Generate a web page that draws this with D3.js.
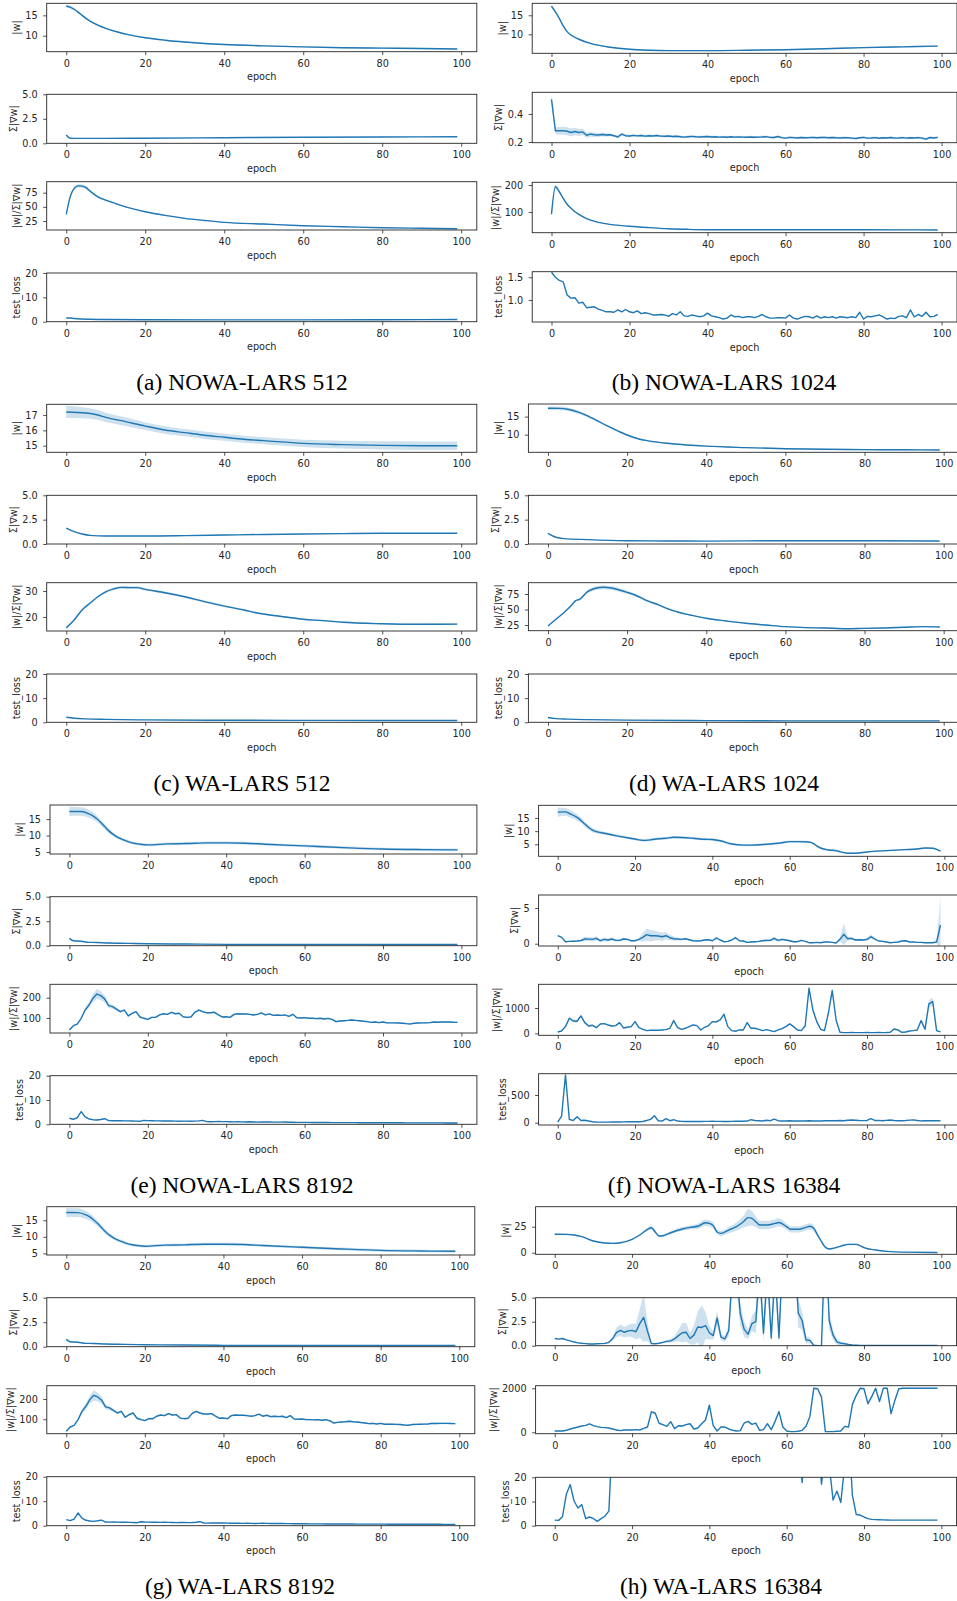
<!DOCTYPE html>
<html>
<head>
<meta charset="utf-8">
<script src="https://cdn.jsdelivr.net/npm/d3@7"></script>
<style>
  body { margin: 0; background: #fff; }
</style>
</head>
<body>
<svg id="fig" width="957" height="1601"></svg>
<script>
// ---- labels ----
const EPOCHS = d3.range(100);
const X_TICKS = [0, 20, 40, 60, 80, 100];
const Y_LABELS = ["|w|", "Σ|∇w|", "|w|/Σ|∇w|", "test_loss"];
const CAPTIONS = ["(a) NOWA-LARS 512", "(b) NOWA-LARS 1024", "(c) WA-LARS 512", "(d) WA-LARS 1024",
  "(e) NOWA-LARS 8192", "(f) NOWA-LARS 16384", "(g) WA-LARS 8192", "(h) WA-LARS 16384"];

// ---- data: smooth runs as [epoch, mean, band half-width]; noisy runs as one value per epoch ----
// (a) NOWA-LARS 512
const a_w = [[0,17.3,0.3],[1,17.0,0.3],[2,16.5,0.3],[3,15.8,0.3],[4,15.0,0.25],[6,13.6,0.2],[8,12.6,0.2],[10,11.8,0.15],[13,10.9,0.15],[16,10.2,0.15],[20,9.5,0.15],[25,8.9,0.15],[30,8.45,0.15],[35,8.1,0.15],[40,7.85,0.15],[50,7.5,0.15],[60,7.25,0.15],[70,7.05,0.15],[80,6.95,0.15],[90,6.85,0.15],[99,6.75,0.15]];
const a_g = [[0,0.85,0.05],[1,0.52,0.03],[3,0.5,0.02],[10,0.5,0.02],[20,0.52,0.02],[40,0.57,0.02],[60,0.62,0.02],[80,0.65,0.02],[99,0.67,0.02]];
const a_r = [[0,36.8,1],[1,67.8,2],[2,82.5,3],[3,87,3],[4,86.6,3],[5,84,3],[6,78,2.5],[7,72.5,2],[8,67.8,2],[10,62,1.5],[12,57,1.5],[15,50,1],[20,41.4,1],[25,35,1],[30,29.8,1],[35,26,0.8],[40,22.7,0.8],[50,19.7,0.6],[60,16.7,0.5],[70,15,0.5],[80,13.2,0.5],[90,12.2,0.5],[99,11.4,0.5]];
const a_l = [[0,1.5,0.05],[1,1.55,0.05],[2,1.3,0.05],[4,1.1,0.05],[6,1.0,0.05],[10,0.9,0.05],[20,0.8,0.05],[40,0.75,0.05],[60,0.75,0.05],[80,0.8,0.05],[99,0.9,0.05]];
const a_ylim = [[6.07,17.96],[0,5],[9.2,94.4],[0,20]];
const a_yticks = [[10,15],[0,2.5,5],[25,50,75],[0,10,20]];

// (b) NOWA-LARS 1024
const b_w = [[0,17.4,0.3],[1,15.9,0.3],[2,14.2,0.3],[3,12.2,0.3],[4,10.7,0.2],[5,9.8,0.2],[7,8.7,0.2],[10,7.6,0.15],[15,6.6,0.15],[20,6.05,0.15],[25,5.8,0.15],[30,5.7,0.15],[40,5.7,0.15],[50,5.8,0.15],[60,5.95,0.15],[70,6.2,0.15],[80,6.5,0.15],[90,6.7,0.15],[99,6.9,0.15]];
const b_g = [0.505,0.28,0.28,0.28,0.277,0.268,0.275,0.268,0.272,0.248,
  0.256,0.252,0.25,0.254,0.25,0.252,0.245,0.236,0.256,0.245,
  0.243,0.247,0.244,0.246,0.242,0.245,0.243,0.246,0.242,0.241,
  0.243,0.239,0.241,0.238,0.235,0.238,0.24,0.237,0.236,0.238,
  0.239,0.236,0.237,0.235,0.236,0.234,0.237,0.235,0.236,0.235,
  0.234,0.236,0.234,0.235,0.236,0.238,0.233,0.232,0.239,0.231,
  0.228,0.233,0.231,0.229,0.232,0.23,0.231,0.233,0.23,0.232,
  0.233,0.23,0.232,0.23,0.229,0.231,0.23,0.228,0.225,0.23,
  0.233,0.228,0.229,0.231,0.227,0.23,0.229,0.232,0.228,0.229,
  0.231,0.228,0.23,0.229,0.231,0.228,0.221,0.232,0.229,0.233];
const b_g_band = [0.03,0.025,0.028,0.029,0.029,0.028,0.027,0.025,0.022,0.02,
  0.018,0.016,0.014,0.013,0.012,0.011,0.01,0.01,0.01,0.01,
  0.009,0.009,0.009,0.009,0.009,0.008,0.008,0.008,0.008,0.008,
  0.008,0.008,0.008,0.008,0.008,0.008,0.008,0.008,0.008,0.008,
  0.008,0.008,0.008,0.008,0.008,0.008,0.008,0.008,0.008,0.008,
  0.008,0.008,0.008,0.008,0.008,0.008,0.008,0.008,0.008,0.008,
  0.008,0.008,0.008,0.008,0.008,0.008,0.008,0.008,0.008,0.008,
  0.008,0.008,0.008,0.008,0.008,0.008,0.008,0.008,0.008,0.008,
  0.008,0.008,0.008,0.008,0.008,0.008,0.008,0.008,0.008,0.008,
  0.008,0.008,0.008,0.008,0.008,0.008,0.008,0.008,0.008,0.008];
const b_r = [[0,91.5,4],[1,193.7,8],[2,175,6],[3,150.7,5],[4,128.5,4],[5,113.7,3],[6,101,3],[7,91.5,2],[8,82.6,2],[10,70,2],[12,61.7,1.5],[15,54.3,1.5],[20,47,1],[25,42,1],[30,38,1],[35,35.8,1],[40,34.5,1],[50,34,1],[60,34,1],[70,34,1],[80,34,1],[90,33.8,1],[99,33.5,1]];
const b_l = [1.61,1.50,1.43,1.40,1.11,1.04,1.05,0.93,0.95,0.83,
  0.84,0.85,0.80,0.77,0.74,0.74,0.73,0.78,0.74,0.79,
  0.74,0.72,0.76,0.70,0.72,0.70,0.67,0.67,0.68,0.67,
  0.64,0.70,0.67,0.74,0.65,0.64,0.67,0.65,0.63,0.65,
  0.71,0.65,0.63,0.61,0.58,0.60,0.67,0.63,0.64,0.61,
  0.63,0.63,0.61,0.64,0.68,0.63,0.60,0.60,0.61,0.61,
  0.60,0.67,0.60,0.58,0.61,0.64,0.63,0.60,0.65,0.60,
  0.63,0.61,0.63,0.60,0.63,0.62,0.61,0.63,0.61,0.73,
  0.58,0.64,0.63,0.65,0.67,0.63,0.58,0.60,0.59,0.64,
  0.65,0.61,0.78,0.63,0.68,0.64,0.73,0.63,0.64,0.68];
const b_ylim = [[5.0,18.16],[0.195,0.555],[23.3,210],[0.515,1.623]];
const b_yticks = [[10,15],[0.2,0.4],[100,200],[1.0,1.5]];

// (c) WA-LARS 512
const c_w = [[0,17.2,0.4],[5,17.13,0.35],[8,17.0,0.33],[10,16.85,0.3],[15,16.57,0.28],[20,16.28,0.25],[25,16.02,0.25],[30,15.85,0.24],[35,15.68,0.24],[40,15.55,0.23],[45,15.42,0.23],[50,15.33,0.23],[60,15.15,0.24],[70,15.07,0.26],[80,15.02,0.27],[90,15.0,0.28],[99,15.0,0.28]];
const c_g = [[0,1.64,0.03],[2,1.27,0.03],[4,1.03,0.03],[6,0.89,0.03],[10,0.82,0.03],[20,0.82,0.03],[30,0.86,0.03],[40,0.92,0.03],[50,0.98,0.03],[60,1.03,0.03],[70,1.07,0.03],[80,1.1,0.03],[90,1.1,0.03],[99,1.1,0.03]];
const c_r = [[0,15.8,0.2],[2,18.85,0.3],[4,22.7,0.4],[6,25.3,0.4],[8,27.8,0.5],[10,29.7,0.5],[12,30.8,0.5],[14,31.4,0.5],[16,31.3,0.5],[18,31.3,0.5],[20,30.65,0.5],[25,29.35,0.5],[30,27.8,0.4],[35,25.9,0.4],[40,24.2,0.4],[45,22.7,0.4],[48,21.65,0.3],[50,21.15,0.3],[55,20.1,0.3],[60,19.1,0.3],[65,18.6,0.3],[70,17.95,0.3],[80,17.4,0.3],[90,17.2,0.3],[99,17.25,0.3]];
const c_l = [[0,2.1,0.1],[2,1.7,0.1],[5,1.4,0.08],[10,1.2,0.05],[20,1.0,0.05],[40,0.85,0.05],[60,0.8,0.05],[80,0.75,0.05],[99,0.75,0.05]];
const c_ylim = [[14.57,17.70],[0,5],[14.6,33.2],[0,20]];
const c_yticks = [[15,16,17],[0,2.5,5],[20,30],[0,10,20]];

// (d) WA-LARS 1024
const d_w = [[0,17.33,0.5],[3,17.3,0.5],[5,17.05,0.5],[8,16.1,0.45],[10,15.2,0.4],[12,14.1,0.35],[15,12.4,0.3],[18,10.85,0.25],[20,9.9,0.2],[23,8.8,0.2],[25,8.35,0.2],[30,7.6,0.15],[35,7.14,0.15],[40,6.8,0.15],[50,6.4,0.15],[60,6.1,0.15],[70,5.95,0.15],[80,5.85,0.15],[90,5.8,0.15],[99,5.75,0.15]];
const d_g = [[0,1.1,0.04],[2,0.69,0.03],[4,0.55,0.02],[10,0.45,0.02],[20,0.34,0.02],[30,0.31,0.02],[40,0.3,0.02],[60,0.34,0.02],[80,0.33,0.02],[99,0.3,0.02]];
const d_r = [[0,23.4,0.5],[2,34.2,1],[4,44.8,1],[6,57.3,1.5],[7,64.2,1.5],[8,66.4,2],[10,78.7,2.5],[12,84.2,3],[14,85.8,3],[16,84.7,3],[18,81.5,3],[20,77.7,2.5],[22,73.4,2],[25,64.2,2],[28,57.3,1.5],[30,51.9,1.5],[33,45.5,1.2],[36,41.1,1],[40,35.8,1],[45,31.5,1],[50,27.7,1],[55,25,1],[60,22.3,1],[65,20.7,1],[70,20.2,1],[75,19,1],[80,19.6,1],[85,20.2,1],[90,21.3,1],[95,22.3,1],[99,21.8,1]];
const d_l = [[0,2.0,0.1],[2,1.5,0.1],[5,1.3,0.08],[10,1.1,0.05],[20,0.9,0.05],[40,0.7,0.05],[60,0.6,0.05],[80,0.6,0.05],[99,0.6,0.05]];
const d_ylim = [[5.1,18.5],[0,5],[15.8,93.2],[0,20]];
const d_yticks = [[10,15],[0,2.5,5],[25,50,75],[0,10,20]];

// (e) NOWA-LARS 8192, drawn again as (g) WA-LARS 8192
const e_w = [[0,17.34,1.4],[3,17.3,1.3],[5,16.6,1.2],[6,16.0,1.1],[7,15.1,1.0],[8,14.0,0.9],[9,12.75,0.8],[10,11.5,0.7],[11,10.5,0.6],[12,9.7,0.55],[14,8.6,0.5],[16,7.77,0.45],[18,7.37,0.4],[20,7.16,0.4],[25,7.47,0.4],[30,7.57,0.4],[35,7.77,0.4],[40,7.77,0.4],[45,7.67,0.4],[50,7.37,0.4],[60,6.85,0.4],[70,6.33,0.4],[80,5.9,0.4],[90,5.72,0.4],[99,5.63,0.4]];
const e_g = [[0,0.75,0.05],[1,0.51,0.04],[3,0.45,0.04],[5,0.34,0.03],[7,0.33,0.03],[10,0.27,0.03],[15,0.24,0.02],[20,0.2,0.02],[30,0.17,0.02],[40,0.14,0.02],[60,0.14,0.02],[80,0.13,0.02],[99,0.12,0.02]];
const e_r = [40.9,62,70,98.5,139,164,197,218,210,194,
  161,156,144,131,139,110,123,131,105,98.5,
  93.4,103,103,115,121,118,128,121,123,106,
  103,105,128,139,131,126,126,128,115,105,
  106,103,118,121,120,120,118,115,118,125,
  115,120,113,115,113,115,108,118,101.5,100,
  101.5,98.5,98.5,97,98.5,95,98,93,82,85,
  86.7,88,90,88,86.7,84,82,78.5,80,77,
  80,75.7,76,75.7,75,74,72,70.7,74,75,
  75.7,76,77,80,79,80,80,80,79,78.5];
const e_r_band = [3,3,3,4,10,15,20,25,22,18,
  12,10,8,6,5,5,5,5,5,5,
  4,4,4,4,4,4,4,4,4,4,
  4,4,4,5,5,4,4,4,4,4,
  4,4,4,4,4,4,4,4,4,4,
  4,4,4,4,4,4,4,4,4,4,
  4,4,4,4,4,4,4,4,4,4,
  4,4,4,4,4,4,4,4,4,4,
  4,4,4,4,4,4,4,4,4,4,
  4,4,4,4,4,4,4,4,4,4];
const e_l = [2.5,2.06,2.7,5.2,3.1,2.2,1.9,1.77,2.0,2.3,
  1.5,1.45,1.5,1.45,1.4,1.4,1.35,1.3,1.23,1.63,
  1.5,1.45,1.4,1.4,1.35,1.4,1.35,1.3,1.25,1.3,
  1.3,1.25,1.3,1.4,1.63,1.1,1.05,1.1,1.15,1.1,
  1.1,1.05,1.0,1.05,1.0,0.95,1.05,0.95,0.9,0.95,
  1.0,0.95,0.9,0.9,0.9,0.95,0.85,0.85,0.8,0.8,
  0.8,0.78,0.76,0.75,0.74,0.73,0.72,0.71,0.7,0.7,
  0.69,0.68,0.68,0.67,0.66,0.66,0.65,0.65,0.64,0.64,
  0.63,0.63,0.62,0.62,0.61,0.61,0.6,0.6,0.6,0.59,
  0.59,0.58,0.58,0.58,0.57,0.57,0.56,0.56,0.55,0.55];
const e_l_band = 0.12;
const e_ylim = [[4.39,19.3],[0,5],[26,266],[0,20]];
const e_yticks = [[5,10,15],[0,2.5,5],[100,200],[0,10,20]];
const g_ylim = [[4.5,19.1],[0,5],[29,265.5],[0,20]];

// (f) NOWA-LARS 16384
const f_w = [[0,17.2,1.8],[2,17.3,1.5],[3,16.7,1.4],[5,15.2,1.2],[7,12.7,1.0],[8,11.4,0.9],[9,10.4,0.8],[10,9.8,0.7],[12,9.2,0.6],[15,8.3,0.5],[18,7.5,0.5],[20,7.0,0.5],[22,6.5,0.5],[24,6.7,0.5],[26,7.1,0.5],[28,7.3,0.5],[30,7.65,0.5],[32,7.6,0.5],[35,7.3,0.5],[38,6.9,0.5],[40,6.8,0.5],[42,6.36,0.5],[45,5.1,0.5],[48,4.7,0.4],[50,4.7,0.4],[53,4.9,0.4],[55,5.1,0.4],[58,5.6,0.4],[60,6.0,0.4],[62,6.0,0.4],[65,5.9,0.4],[66,5.4,0.4],[67,4.4,0.4],[68,3.6,0.4],[70,2.85,0.4],[72,2.6,0.4],[73,2.2,0.3],[75,1.6,0.3],[77,1.6,0.3],[80,2.1,0.3],[85,2.6,0.3],[90,3.0,0.3],[93,3.2,0.3],[95,3.6,0.3],[97,3.5,0.3],[98,3.1,0.3],[99,2.46,0.3]];
const f_g = [1.12,0.89,0.28,0.33,0.35,0.38,0.45,0.66,0.64,0.61,
  0.75,0.42,0.61,0.52,0.66,0.47,0.47,0.66,0.61,0.42,
  0.42,0.61,0.89,1.27,1.12,1.12,1.08,0.98,1.12,0.84,
  0.70,0.66,0.61,0.70,0.56,0.42,0.38,0.42,0.52,0.56,
  0.42,0.80,0.52,0.28,0.33,0.52,0.84,0.42,0.38,0.19,
  0.24,0.28,0.33,0.42,0.47,0.47,0.75,0.47,0.61,0.52,
  0.42,0.28,0.28,0.47,0.33,0.14,0.14,0.19,0.14,0.24,
  0.24,0.19,0.10,0.61,1.31,0.70,0.75,0.52,0.56,0.52,
  0.61,0.98,0.66,0.38,0.33,0.24,0.14,0.19,0.24,0.38,
  0.42,0.24,0.24,0.19,0.19,0.14,0.14,0.14,0.24,2.62];
const f_g_band = [0.1,0.1,0.1,0.1,0.1,0.1,0.15,0.3,0.3,0.3,
  0.3,0.2,0.25,0.2,0.2,0.15,0.15,0.2,0.15,0.15,
  0.15,0.2,0.6,0.85,0.8,0.7,0.6,0.6,0.5,0.4,
  0.3,0.2,0.15,0.15,0.15,0.1,0.1,0.1,0.1,0.1,
  0.1,0.2,0.15,0.1,0.1,0.1,0.2,0.1,0.1,0.1,
  0.1,0.1,0.1,0.15,0.2,0.2,0.25,0.2,0.2,0.15,
  0.1,0.1,0.1,0.1,0.05,0.05,0.05,0.05,0.05,0.05,
  0.05,0.05,0.05,0.3,1.5,0.3,0.2,0.15,0.15,0.15,
  0.2,0.3,0.2,0.1,0.1,0.05,0.05,0.05,0.05,0.1,
  0.1,0.05,0.05,0.05,0.05,0.05,0.05,0.05,0.1,3.8];
const f_r = [53,92,264,594,488,475,686,422,290,317,
  224,370,383,330,290,304,422,211,238,264,
  462,224,158,106,119,119,119,132,145,198,
  502,224,158,198,264,330,304,132,238,304,
  462,449,528,752,264,106,79,132,132,422,
  198,198,158,106,145,106,66,132,185,264,
  370,264,132,106,290,1780,924,462,158,106,
  792,1690,528,40,26,26,30,26,28,26,
  30,26,28,30,26,30,40,172,132,40,
  53,92,106,132,502,158,1162,1254,106,53];
const f_r_band = [15,20,40,60,60,60,60,40,30,30,
  30,30,30,30,30,30,30,25,25,25,
  30,25,20,15,15,15,15,15,15,20,
  40,20,20,20,25,30,25,15,20,25,
  30,30,30,60,30,15,10,15,15,30,
  20,15,15,15,15,15,15,15,20,25,
  30,25,15,15,30,100,60,40,20,15,
  60,100,40,10,10,10,10,10,10,10,
  10,10,10,10,10,10,15,20,15,10,
  10,10,10,15,40,20,150,150,20,10];
const f_l = [12,120,860,60,40,108,40,45,30,18,
  12,10,10,10,12,12,12,14,16,18,
  20,18,22,40,60,126,36,30,72,36,
  54,30,24,22,22,22,24,22,24,24,
  26,24,24,22,22,24,28,26,26,30,
  54,40,36,30,44,36,66,36,30,32,
  34,32,30,30,32,34,30,30,32,34,
  36,34,36,40,36,44,48,44,40,38,
  40,72,40,42,36,42,48,40,36,36,
  40,46,50,40,32,34,36,36,36,36];
const f_ylim = [[0.45,19.8],[-0.32,6.82],[-79,1937],[-41.5,884]];
const f_yticks = [[5,10,15],[0,5],[0,1000],[0,500]];

// (h) WA-LARS 16384
const h_w = [[0,17.7,0.8],[3,17.6,0.8],[5,17,0.7],[7,15.4,0.6],[10,11.25,0.5],[13,9.3,0.5],[15,9.0,0.5],[17,9.6,0.5],[20,12.9,0.6],[22,17,0.8],[24,22.5,1.5],[25,24,2],[26,19.9,1.5],[27,16,1.2],[28,16.3,1.2],[30,19.2,1.5],[33,22.8,1.8],[35,24.4,2],[37,25.4,2.5],[39,28.8,3],[40,28.2,3],[41,26,3],[42,19.9,2.5],[43,18.6,2.5],[45,21.8,3],[47,25,4],[49,30.5,6],[50,33.7,8],[51,33,7],[52,29.8,5],[53,26.6,4],[55,26.6,4],[57,28.2,4],[58,29.1,4],[60,25,3],[61,22.5,3],[63,22.5,3],[65,24.4,3],[66,25.4,3],[67,23.4,3],[68,17,2],[69,10.6,1.5],[70,5.2,1],[71,3.6,0.8],[72,4.2,0.8],[74,6.4,0.8],[76,8,0.8],[78,8,0.8],[79,6.8,0.7],[80,4.9,0.6],[83,2.6,0.4],[86,1.3,0.3],[90,0.6,0.2],[99,0.3,0.2]];
const h_g = [0.75,0.68,0.75,0.6,0.5,0.38,0.3,0.25,0.22,0.17,
  0.18,0.2,0.22,0.24,0.35,0.75,1.4,1.6,1.4,1.55,
  1.6,1.45,2.3,2.95,1.5,0.22,0.2,0.25,0.35,0.45,
  0.5,0.7,1.05,1.35,1.4,0.75,1.1,1.95,1.9,2.1,
  1.35,1.05,2.9,0.9,0.7,1.55,8,8,3.3,1.7,
  1.2,2.3,2.5,8,1.3,8,0.8,8,0.8,10,
  15,15,10,3.4,2.6,0.6,0.55,0.05,0,0,
  12,2.6,1.1,0.4,0.25,0.2,0.12,0.08,0.05,0.02,
  0.02,0.02,0.02,0.02,0.02,0.02,0.02,0.02,0.02,0.02,
  0.02,0.02,0.02,0.02,0.02,0.02,0.02,0.02,0.02,0.02];
const h_g_band = [0.05,0.05,0.05,0.05,0.05,0.05,0.05,0.05,0.05,0.05,
  0.05,0.05,0.05,0.08,0.1,0.2,0.5,0.6,0.55,0.6,
  0.7,0.8,1.5,2.5,1.0,0.1,0.05,0.05,0.1,0.15,
  0.2,0.3,0.6,1.0,1.0,0.6,1.0,1.6,2.3,1.4,
  0.7,0.4,0.8,0.3,0.3,0.6,2,2,1.2,0.8,
  0.5,0.8,1.2,2,0.8,2,0.5,2,0.5,2,
  2,2,2,1.5,1.0,0.4,0.3,0.05,0.05,0.05,
  2,1.0,0.5,0.3,0.2,0.1,0.05,0.05,0.05,0.02,
  0.02,0.02,0.02,0.02,0.02,0.02,0.02,0.02,0.02,0.02,
  0.02,0.02,0.02,0.02,0.02,0.02,0.02,0.02,0.02,0.02];
const h_r = [60,60,60,90,150,195,240,285,316,380,
  300,255,225,210,195,150,105,75,105,105,
  105,120,105,180,240,930,870,410,346,270,
  481,165,300,285,346,390,150,195,390,560,
  1230,300,60,240,240,150,90,60,75,420,
  496,361,420,90,120,390,120,496,940,240,
  60,30,30,45,90,270,722,2000,1980,1600,
  30,30,30,45,60,270,240,1270,1680,2000,
  1980,1300,1620,2000,1400,2000,2000,850,1460,1980,
  2000,2000,2000,2000,2000,2000,2000,2000,2000,2000];
const h_r_band = [10,10,10,10,15,15,15,15,20,20,
  20,15,15,15,15,15,10,10,10,10,
  10,10,10,20,30,60,60,30,25,20,
  30,15,20,20,25,25,15,20,25,40,
  80,30,10,20,20,15,10,10,10,25,
  30,25,25,10,10,25,10,30,60,20,
  10,10,10,10,10,20,40,40,40,60,
  10,10,10,10,10,20,20,60,60,40,
  40,80,60,40,60,30,30,120,60,30,
  10,10,10,10,10,10,10,10,10,10];
const h_l = [2.3,2.2,3.7,13.0,17.0,10.2,7.3,8.7,2.9,3.6,
  2.9,1.8,2.9,4.0,6.0,40,40,40,40,40,
  40,40,40,40,40,40,40,40,40,40,
  40,40,40,40,40,40,40,40,40,40,
  40,40,40,40,40,40,40,40,40,40,
  40,40,40,40,40,40,40,40,40,40,
  40,40,40,40,17.8,40,40,40,40,17.2,
  30,25,10.6,14.3,9.6,25,40,12.5,4.6,4.4,
  3.6,2.9,2.6,2.5,2.45,2.4,2.35,2.3,2.3,2.3,
  2.3,2.3,2.3,2.3,2.3,2.3,2.3,2.3,2.3,2.3];
const h_ylim = [[-1.5,44.2],[0,5],[-64,2118],[0,20]];
const h_yticks = [[0,25],[0,2.5,5],[0,2000],[0,10,20]];

// ---- layout (pixel boxes of each panel's four axes) ----
const LAYOUT = [
  { left: 46.7, right: 476.8, capX: 242, capY: 390, rows: [[3.3,51.7],[94.3,143.3],[181.7,230],[273,321.7]] },
  { left: 532.2, right: 957, capX: 724, capY: 390, rows: [[3.3,53.3],[92.3,142.7],[182.3,232.7],[271.7,322]] },
  { left: 46.7, right: 476.8, capX: 242, capY: 791, rows: [[404.3,452.3],[495.3,544],[582.7,631],[674,722.3]] },
  { left: 528.4, right: 959.3, capX: 724, capY: 791, rows: [[404,452.3],[495.3,544],[582.7,630.7],[674,722.3]] },
  { left: 50, right: 476.9, capX: 242, capY: 1193, rows: [[805,854],[896.7,945.7],[984.3,1033],[1075.7,1124.3]] },
  { left: 538.6, right: 959.6, capX: 724, capY: 1193, rows: [[805.3,856.3],[895,946],[984.3,1035.3],[1073.7,1125]] },
  { left: 46.8, right: 474.8, capX: 240, capY: 1594, rows: [[1206.7,1255],[1297.7,1346.7],[1385.7,1433.7],[1476.7,1525.7]] },
  { left: 535.6, right: 956.6, capX: 721, capY: 1594, rows: [[1206.7,1254.3],[1297.7,1345.7],[1385.7,1433.7],[1477.3,1525.7]] }
];

const PANELS = [
  { series: [[a_w], [a_g], [a_r], [a_l]], ylim: a_ylim, yticks: a_yticks },
  { series: [[b_w], [b_g, b_g_band], [b_r], [b_l, 0]], ylim: b_ylim, yticks: b_yticks },
  { series: [[c_w], [c_g], [c_r], [c_l]], ylim: c_ylim, yticks: c_yticks },
  { series: [[d_w], [d_g], [d_r], [d_l]], ylim: d_ylim, yticks: d_yticks },
  { series: [[e_w], [e_g], [e_r, e_r_band], [e_l, e_l_band]], ylim: e_ylim, yticks: e_yticks },
  { series: [[f_w], [f_g, f_g_band], [f_r, f_r_band], [f_l, 0]], ylim: f_ylim, yticks: f_yticks },
  { series: [[e_w], [e_g], [e_r, e_r_band], [e_l, e_l_band]], ylim: g_ylim, yticks: e_yticks },
  { series: [[h_w], [h_g, h_g_band], [h_r, h_r_band], [h_l, 0]], ylim: h_ylim, yticks: h_yticks }
];

const BLUE = "#1f77b4";
const INK = "#262626";
const svg = d3.select("#fig");
const defs = svg.append("defs");

// 把两种数据格式统一成 {e, v, s}
function toPoints(vals, band) {
  if (typeof vals[0] === "number") {
    return vals.map((v, i) => ({ e: EPOCHS[i], v: v, s: Array.isArray(band) ? band[i] : (band || 0) }));
  }
  return vals.map(d => ({ e: d[0], v: d[1], s: d[2] || 0 }));
}

function styleAxis(g) {
  g.attr("font-family", "DejaVu Sans").attr("font-size", 9.7);
  g.select(".domain").remove();
  g.selectAll("line").attr("stroke", INK).attr("stroke-width", 0.8);
  g.selectAll("text").attr("fill", INK);
}

PANELS.forEach((p, pi) => {
  const L = LAYOUT[pi];
  const x = d3.scaleLinear().domain([-4.95, 103.95]).range([L.left, L.right]);

  p.series.forEach((s, ri) => {
    const [top, bottom] = L.rows[ri];
    const y = d3.scaleLinear().domain(p.ylim[ri]).range([bottom, top]);
    const dense = typeof s[0][0] === "number";
    const pts = toPoints(s[0], s[1]);
    const curve = dense ? d3.curveLinear : d3.curveMonotoneX;

    const cid = "clip" + pi + "_" + ri;
    defs.append("clipPath").attr("id", cid)
      .append("rect").attr("x", L.left).attr("y", top)
      .attr("width", L.right - L.left).attr("height", bottom - top);

    const plot = svg.append("g").attr("clip-path", `url(#${cid})`);

    // 置信带
    plot.append("path").datum(pts)
      .attr("d", d3.area().x(d => x(d.e)).y0(d => y(d.v - d.s)).y1(d => y(d.v + d.s)).curve(curve))
      .attr("fill", BLUE).attr("fill-opacity", 0.22).attr("stroke", "none");

    // 均值线
    plot.append("path").datum(pts)
      .attr("d", d3.line().x(d => x(d.e)).y(d => y(d.v)).curve(curve))
      .attr("fill", "none").attr("stroke", BLUE).attr("stroke-width", 1.4)
      .attr("stroke-linejoin", "round");

    // 边框
    svg.append("rect").attr("x", L.left).attr("y", top)
      .attr("width", L.right - L.left).attr("height", bottom - top)
      .attr("fill", "none").attr("stroke", INK).attr("stroke-width", 0.9);

    // x轴
    const xa = svg.append("g").attr("transform", `translate(0,${bottom})`)
      .call(d3.axisBottom(x).tickValues(X_TICKS).tickSize(3.5).tickPadding(4.6).tickFormat(d3.format("d")));
    styleAxis(xa);

    // y轴
    const ticks = p.yticks[ri];
    const fmt = ticks.some(t => !Number.isInteger(t)) ? d3.format(".1f") : d3.format("d");
    const ya = svg.append("g").attr("transform", `translate(${L.left},0)`)
      .call(d3.axisLeft(y).tickValues(ticks).tickSize(3.5).tickPadding(5.5).tickFormat(fmt));
    styleAxis(ya);

    svg.append("text")
      .attr("x", (L.left + L.right) / 2).attr("y", bottom + 28.7)
      .attr("text-anchor", "middle")
      .attr("font-family", "DejaVu Sans").attr("font-size", 9.7).attr("fill", INK)
      .text("epoch");

    const bb = ya.node().getBBox();
    svg.append("text")
      .attr("transform", `translate(${L.left + bb.x - 5.3},${(top + bottom) / 2}) rotate(-90)`)
      .attr("text-anchor", "middle")
      .attr("font-family", "DejaVu Sans").attr("font-size", 9.7).attr("fill", INK)
      .text(Y_LABELS[ri]);
  });

  // 子图标题
  svg.append("text")
    .attr("x", L.capX).attr("y", L.capY)
    .attr("text-anchor", "middle")
    .attr("font-family", "'Liberation Serif', 'Times New Roman', serif")
    .attr("font-size", 23.5).attr("fill", "#000")
    .text(CAPTIONS[pi]);
});
</script>
</body>
</html>
